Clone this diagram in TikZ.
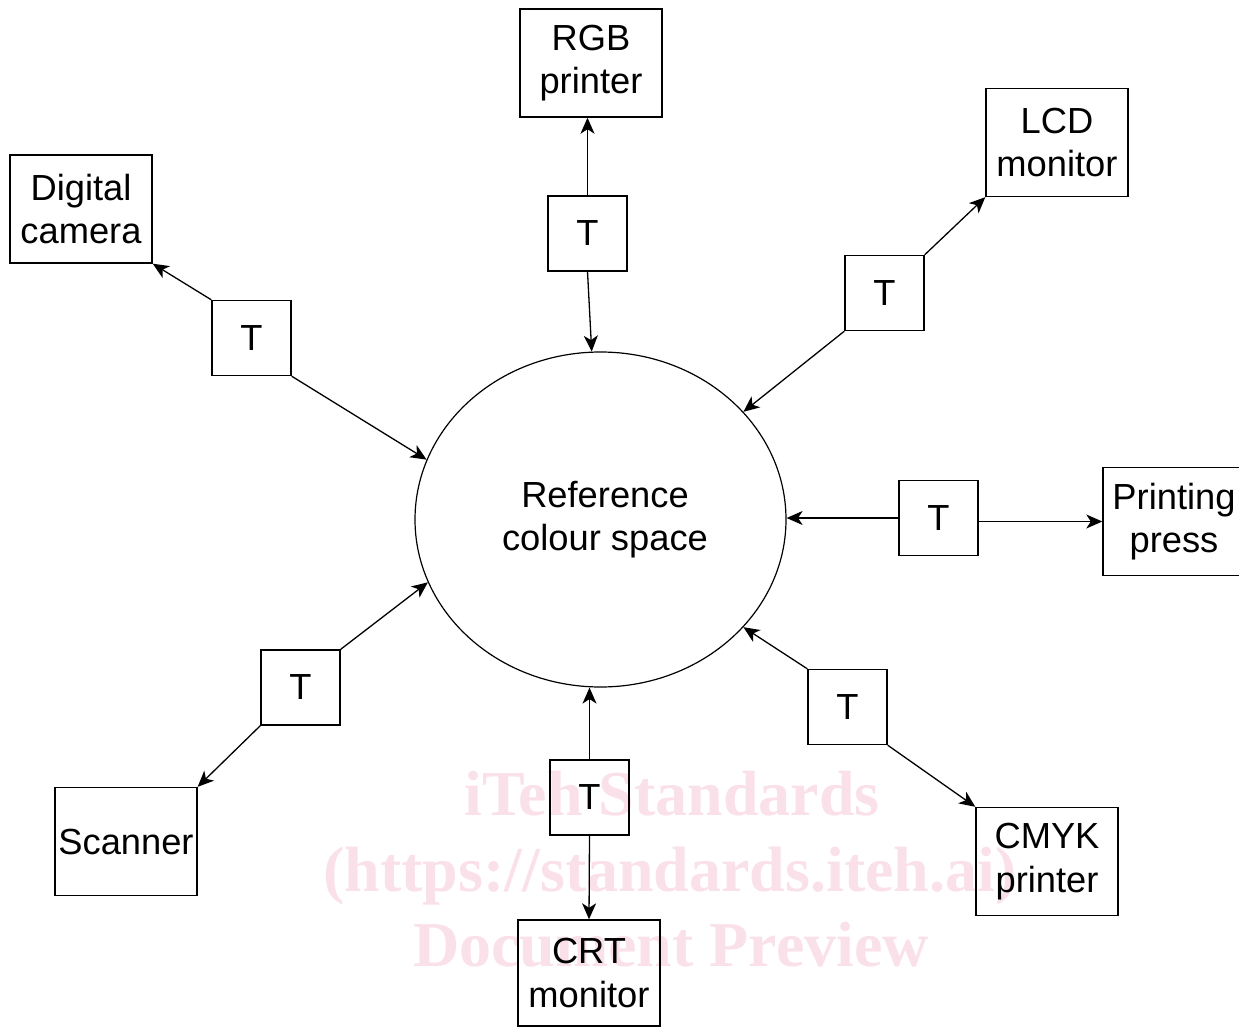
\documentclass[tikz,border=0pt]{standalone}
\usepackage{fontspec}
\setmainfont{Liberation Sans}
\newfontfamily\wmfont{Liberation Serif}
\usetikzlibrary{shapes.geometric,arrows.meta}
\definecolor{wmpink}{RGB}{250,225,233}
\tikzset{
  device/.style={draw, line width=1.4pt, minimum width=142pt, minimum height=108pt, inner sep=0pt, align=center, font=\fontsize{36.3}{43.5}\selectfont},
  tbox/.style={draw, line width=1.4pt, minimum width=79pt, minimum height=75pt, inner sep=0pt, font=\fontsize{36.3}{43.5}\selectfont},
  conn/.style={line width=1.3pt, -{Stealth[length=16pt, width=14pt, inset=4.5pt]}},
  wm/.style={text=wmpink, font=\wmfont\bfseries\fontsize{64}{76}\selectfont, inner sep=0pt}
}
\begin{document}
\begin{tikzpicture}[x=1pt, y=-1pt]
\useasboundingbox (0,0) rectangle (1239,1027);
\clip (0,0) rectangle (1239,1027);
% watermark
\node[wm, anchor=base] (wm1) at (672,815) {iTeh Standards};
\node[wm, anchor=base] (wm2) at (670,891) {(https://standards.iteh.ai)};
\node[wm, anchor=base] (wm3) at (671,966) {Document Preview};
% central ellipse
\node[draw, ellipse, line width=1.2pt, minimum width=371pt, minimum height=335pt, inner sep=0pt, align=center, font=\fontsize{36.3}{43.5}\selectfont] (ell) at (600.5,519.5) {\hspace*{9pt}Reference\\\hspace*{9pt}colour space};
% devices
\node[device] (rgb) at (591,63) {RGB\\printer};
\node[device] (lcd) at (1057,142.5) {LCD\\monitor};
\node[device] (cam) at (81,209) {Digital\\camera};
\node[device] (press) at (1174,521.5) {Printing\\press};
\node[device] (scan) at (126,841.5) {Scanner};
\node[device] (cmyk) at (1047,861.5) {CMYK\\printer};
\node[device, minimum height=106pt] (crt) at (589,973) {CRT\\monitor};
% transforms
\node[tbox] (trgb) at (587.5,233.5) {T};
\node[tbox] (tlcd) at (884.5,293) {T};
\node[tbox] (tcam) at (251.5,338) {T};
\node[tbox] (tpress) at (938.5,518) {T};
\node[tbox] (tscan) at (300.5,687.5) {T};
\node[tbox] (tcmyk) at (847.5,707) {T};
\node[tbox] (tcrt) at (589.5,797.5) {T};
% connectors
\draw[conn] (trgb.north) -- (trgb.north |- rgb.south);
\draw[conn] (trgb.south) -- (ell.93.9);
\draw[conn] (tlcd.north east) -- (lcd.south west);
\draw[conn] (tlcd.south west) -- (ell.37.3);
\draw[conn] (tcam.north west) -- (cam.south east);
\draw[conn] (tcam.south east) -- (ell.161.6);
\draw[conn] (tpress.west) -- (tpress.west -| ell.east);
\draw[conn] (tpress.east |- press.west) -- (press.west);
\draw[conn] (tscan.north east) -- (ell.200.7);
\draw[conn] (tscan.south west) -- (scan.north east);
\draw[conn] (tcmyk.north west) -- (ell.-37.8);
\draw[conn] (tcmyk.south east) -- (cmyk.north west);
\draw[conn] (tcrt.north) -- (tcrt.north |- ell.south);
\draw[conn] (tcrt.south) -- (crt.north);
\end{tikzpicture}
\end{document}
